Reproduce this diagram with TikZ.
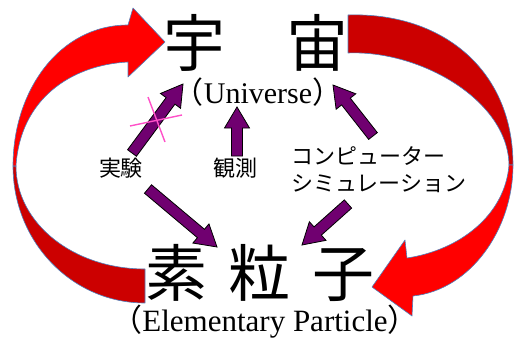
\documentclass[tikz,border=0pt]{standalone}
\usepackage{fontspec}
\setmainfont{Liberation Serif}
\newfontfamily\cjk{Noto Sans CJK JP}
\usetikzlibrary{calc}
\definecolor{arrowdark}{RGB}{204,0,0}
\definecolor{arrowbright}{RGB}{255,0,0}
\definecolor{edgeblue}{RGB}{79,129,189}
\definecolor{purp}{RGB}{112,0,112}
\definecolor{pinkx}{RGB}{255,80,200}
\newcommand\purarrow[3]{%
  \coordinate (#3h) at ($(#2)!21pt!(#1)$);
  \filldraw[purarrowstyle] ($(#1)!5.5pt!90:(#2)$) -- ($(#3h)!5.5pt!90:(#2)$) -- ($(#3h)!12.5pt!90:(#2)$) -- (#2)
    -- ($(#3h)!12.5pt!-90:(#2)$) -- ($(#3h)!5.5pt!-90:(#2)$) -- ($(#1)!5.5pt!-90:(#2)$) -- cycle;}
\begin{document}
\begin{tikzpicture}[x=1pt,y=-1pt,
  bigkanji/.style={font=\cjk\fontsize{62}{62}\selectfont, inner sep=0, anchor=base},
  engtext/.style={font=\fontsize{30}{30}\selectfont, inner sep=0, anchor=base},
  label/.style={font=\cjk\fontsize{22}{27}\selectfont, inner sep=0},
  purarrowstyle/.style={fill=purp, draw=black, line width=0.8pt, line join=miter},
  redpart/.style={draw=edgeblue, line width=0.6pt, line join=round},
  cross/.style={draw=pinkx, line width=1.4pt}]
\useasboundingbox (0,0) rectangle (515,340);

% ---- red curved arrows ----
% left arrow: tail (dark) part
\path[redpart, fill=arrowdark] (145,303) .. controls (72,303) and (13,242) .. (13,166)
  -- (16,166) .. controls (16,223) and (73,269) .. (145,269) -- cycle;
% left arrow: head (bright) part
\path[redpart, fill=arrowbright] (13,166) .. controls (13,90) and (60,25) .. (128,25)
  -- (133,8) -- (165,42) -- (128,77) -- (128,62)
  .. controls (70,65) and (20,100) .. (16,166) -- cycle;
% right arrow: tail (dark) part
\path[redpart, fill=arrowdark] (348,15) .. controls (440,12) and (513,68) .. (513,165)
  -- (509,165) .. controls (508,100) and (420,50) .. (348,53) -- cycle;
% right arrow: head (bright) part
\path[redpart, fill=arrowbright] (513,165) .. controls (513,230) and (470,290) .. (413,296)
  -- (412,316) -- (372,287) -- (405,240) -- (407,258)
  .. controls (460,250) and (505,215) .. (509,165) -- cycle;

% ---- texts ----
\node[bigkanji] (uchu) at (256,66) {宇\hspace{61pt}宙};
\node[engtext] (univ) at (258,103) {{\cjk （}Universe{\cjk ）}};
\node[bigkanji] (soryushi) at (260,296) {素\hspace{22pt}粒\hspace{22pt}子};
\node[engtext, font=\fontsize{31}{31}\selectfont] (elem) at (265,331) {{\cjk （}Elementary Particle{\cjk ）}};
\node[label, anchor=base] (jikken) at (121,176) {実験};
\node[label, anchor=base] (kansoku) at (235,176) {観測};
\node[label, anchor=west, align=left] (sim) at (291,169.5) {コンピューター\\シミュレーション};

% ---- purple arrows ----
\coordinate (a1t) at (132,153); \coordinate (a1h) at (183,84);
\coordinate (a2t) at (148,189); \coordinate (a2h) at (217,247);
\coordinate (a3t) at (237,156); \coordinate (a3h) at (237,107);
\coordinate (a4t) at (373,136); \coordinate (a4h) at (333,85);
\coordinate (a5t) at (348,204); \coordinate (a5h) at (302,245);
\purarrow{a1t}{a1h}{pa}
\purarrow{a2t}{a2h}{pb}
\purarrow{a3t}{a3h}{pc}
\purarrow{a4t}{a4h}{pd}
\purarrow{a5t}{a5h}{pe}

% ---- pink cross ----
\coordinate (x1) at (130,126); \coordinate (x2) at (182,115);
\coordinate (x3) at (148,97);  \coordinate (x4) at (165,142);
\draw[cross] (x1) -- (x2);
\draw[cross] (x3) -- (x4);
\end{tikzpicture}
\end{document}
